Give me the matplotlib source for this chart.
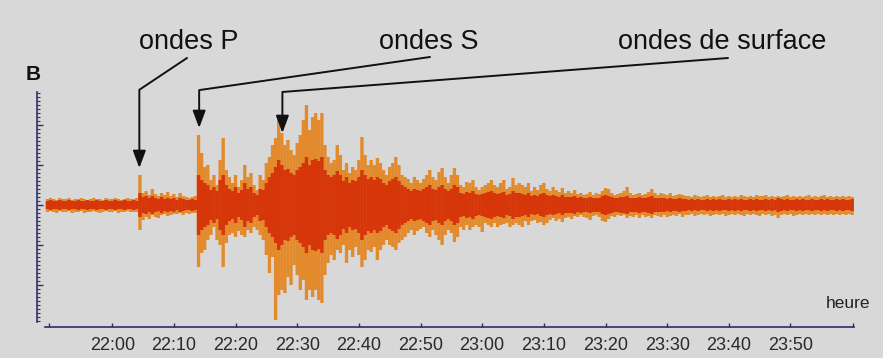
import numpy as np
import matplotlib
matplotlib.use("Agg")
import matplotlib.pyplot as plt
from matplotlib.ticker import FixedLocator, MultipleLocator

plt.rcParams['font.family'] = ['Liberation Sans', 'DejaVu Sans']

# ---------------- data ----------------
# sample times: minutes after 22:00
t_start, t_step, t_end = -10.5, 0.5, 120.0
times = np.arange(t_start, t_end + t_step / 2, t_step)

# peak amplitude above / below baseline (arbitrary units)
up_A = [6, 7, 6, 5, 7, 6, 6, 7, 5, 6, 6, 7, 6, 5, 6, 7, 6, 6, 5, 7,
        6, 6, 7, 6, 5, 6, 7, 6, 6, 7]
lo_A = [7, 6, 7, 8, 6, 7, 7, 6, 8, 7, 7, 6, 8, 7, 7, 6, 7, 8, 7, 6,
        7, 7, 6, 8, 7, 7, 6, 7, 7, 7]
up_B = [30, 12, 14, 10, 16, 11, 9, 12, 10, 13, 9, 11, 8, 12, 9, 8, 7, 8, 9]
lo_B = [25, 15, 12, 14, 10, 12, 13, 10, 9, 11, 10, 9, 9, 8, 10, 8, 9, 8, 8]
up_C = [70, 52, 38, 40, 25, 30, 20, 45, 67, 35,
        28, 22, 30, 18, 25, 40, 28, 32, 20, 15,
        30, 25, 42, 48, 60, 67, 90, 72, 60, 65,
        55, 50, 62, 70, 85, 100, 75, 88, 92, 85,
        92, 60, 48, 42, 45, 60, 50, 35, 42, 32,
        38, 35, 45, 68, 50, 40, 45, 40, 47, 42,
        35, 30, 38, 42, 48, 40, 30, 28, 26, 22,
        28, 25, 22, 26, 30, 35, 28, 25, 33, 37,
        28, 22, 30, 37, 30, 20, 18, 23, 22, 25,
        18, 15, 18, 20, 22, 25, 20, 18, 22, 25,
        16, 18, 27, 20, 22, 20, 18, 22, 14, 18,
        15, 20, 22, 16, 14, 18, 15, 13, 17, 12,
        14, 12, 15, 11, 12, 10, 11, 13, 10, 12,
        11, 14, 17, 16, 12, 10, 11, 12, 14, 18,
        12, 10, 11, 12, 10, 11, 13, 16, 12, 10,
        12, 11, 10, 12, 9, 10, 11, 10, 9]
lo_C = [62, 48, 45, 35, 30, 22, 35, 40, 62, 38,
        30, 28, 32, 26, 30, 32, 25, 28, 22, 25,
        30, 35, 50, 68, 52, 115, 90, 85, 88, 72,
        80, 60, 70, 85, 75, 95, 85, 92, 85, 95,
        98, 70, 58, 50, 55, 45, 48, 40, 58, 45,
        52, 42, 50, 62, 55, 45, 47, 42, 55, 45,
        40, 35, 40, 42, 45, 38, 35, 32, 28, 25,
        30, 26, 24, 22, 28, 32, 25, 30, 35, 40,
        30, 25, 28, 37, 32, 22, 25, 20, 25, 22,
        20, 22, 27, 18, 20, 22, 18, 22, 20, 19,
        18, 22, 20, 18, 20, 22, 16, 20, 16, 15,
        18, 17, 20, 18, 15, 13, 16, 14, 17, 13,
        12, 14, 11, 12, 10, 12, 13, 15, 11, 10,
        12, 16, 17, 14, 11, 12, 10, 11, 10, 13,
        11, 12, 10, 13, 10, 12, 11, 13, 10, 11,
        12, 10, 12, 11, 10, 11, 9, 12, 10]
up_D = [9, 8, 10, 9, 8, 9, 10, 8, 9, 8, 9, 10, 8, 9, 8, 9, 8, 10, 9, 8,
        9, 8, 10, 9, 9, 10, 8, 9, 8, 9, 8, 9, 10, 8, 9, 8, 9, 8, 9, 10,
        8, 9, 8, 9, 10, 8, 9, 8, 9, 8, 9, 8, 9, 8]
lo_D = [10, 9, 11, 10, 9, 10, 9, 11, 10, 9, 10, 9, 11, 10, 9, 10, 9, 10, 11, 9,
        10, 9, 10, 11, 9, 10, 9, 11, 10, 13, 10, 9, 10, 9, 11, 10, 9, 10, 9, 10,
        9, 10, 9, 10, 9, 10, 9, 10, 9, 10, 9, 10, 9, 10]

# half-height of the dense red core at each sample
core_A = [4, 5, 4, 4, 5, 4, 4, 5, 4, 4, 5, 4, 4, 5, 4, 4, 5, 4, 4, 5,
          4, 4, 5, 4, 4, 5, 4, 4, 5, 4]
core_B = [12, 8, 9, 7, 9, 7, 6, 8, 6, 7, 6, 7, 5, 7, 6, 5, 5, 6, 5]
core_C = [30, 25, 22, 20, 15, 18, 14, 25, 30, 20,
          16, 14, 18, 12, 15, 22, 16, 18, 12, 10,
          16, 15, 22, 28, 32, 38, 45, 40, 35, 36,
          32, 30, 35, 38, 42, 48, 40, 45, 46, 44,
          48, 35, 30, 28, 30, 34, 30, 24, 28, 22,
          25, 24, 28, 35, 30, 26, 28, 25, 28, 26,
          22, 20, 24, 26, 28, 24, 20, 18, 16, 14,
          16, 15, 14, 16, 18, 20, 16, 15, 18, 20,
          16, 14, 16, 20, 18, 12, 11, 13, 12, 14,
          11, 10, 11, 12, 13, 14, 12, 11, 12, 13,
          10, 11, 14, 12, 12, 11, 10, 12, 9, 10,
          9, 11, 12, 10, 9, 10, 9, 8, 10, 8,
          8, 8, 9, 7, 8, 7, 7, 8, 7, 7,
          7, 9, 10, 9, 8, 7, 7, 8, 8, 9,
          7, 7, 7, 8, 7, 7, 8, 9, 7, 7,
          7, 7, 6, 7, 6, 6, 7, 6, 6]
core_D = [5, 6, 5, 6, 5, 5, 6, 5, 6, 5, 6, 5, 5, 6, 5, 6, 5, 6, 5, 5,
          6, 5, 6, 5, 5, 6, 5, 6, 5, 7, 6, 5, 6, 5, 5, 6, 5, 6, 5, 5,
          6, 5, 5, 6, 5, 6, 5, 5, 6, 5, 6, 5, 5, 6]

upper = np.array(up_A + up_B + up_C + up_D, dtype=float)
lower = -np.array(lo_A + lo_B + lo_C + lo_D, dtype=float)
core = np.array(core_A + core_B + core_C + core_D, dtype=float)

tick_min = [0, 10, 20, 30, 40, 50, 60, 70, 80, 90, 100, 110]
tick_labels = ["22:00", "22:10", "22:20", "22:30", "22:40", "22:50",
               "23:00", "23:10", "23:20", "23:30", "23:40", "23:50"]

phase_labels = ["ondes P", "ondes S", "ondes de surface"]
phase_t = [4.4, 14.1, 27.6]
phase_tip = [37, 77, 72]

# ---------------- figure ----------------
W, H = 883, 358
BG = '#d8d8d8'
fig = plt.figure(figsize=(W / 100, H / 100), dpi=100, facecolor=BG)
ax = fig.add_axes([45 / W, 36 / H, 809 / W, 230 / H])
ax.set_facecolor(BG)

ax.vlines(times, lower, upper, color='#e38a2c', linewidth=2.4, zorder=2,
          snap=False)
ax.vlines(times, np.maximum(-core, lower), np.minimum(core, upper),
          color='#d6360a', linewidth=2.5, zorder=3, snap=False)

ax.set_xlim(-10.9, 120.3)
ax.set_ylim(-117, 113)

navy = '#2d2d6e'
for s in ['top', 'right']:
    ax.spines[s].set_visible(False)
ax.spines['left'].set_position(('outward', 5.8))
ax.spines['bottom'].set_position(('outward', 3.6))
for s in ['left', 'bottom']:
    ax.spines[s].set_color(navy)
    ax.spines[s].set_linewidth(1.2)

ax.xaxis.set_major_locator(FixedLocator(tick_min))
ax.set_xticklabels(tick_labels)
ax.xaxis.set_minor_locator(FixedLocator([-10.3, 120.2]))
ax.tick_params(axis='x', which='major', direction='in', length=3, width=1,
               color=navy, labelsize=13, labelcolor='#2a2a2a', pad=7)
ax.tick_params(axis='x', which='minor', direction='in', length=3, width=1,
               color=navy)

ax.yaxis.set_major_locator(MultipleLocator(40))
ax.yaxis.set_minor_locator(MultipleLocator(4))
ax.tick_params(axis='y', which='major', direction='in', length=4, width=1,
               color=navy, labelleft=False)
ax.tick_params(axis='y', which='minor', direction='in', length=2, width=0.8,
               color=navy)

# phase annotations
text_pos = [(189, 42), (429, 42), (722, 42)]
line_start = [(187, 58), (430, 57), (728, 58)]
corner = [(139, 90), (200, 90), (282, 92)]
for lab, t, a, tp, ls, cn in zip(phase_labels, phase_t, phase_tip,
                                  text_pos, line_start, corner):
    fig.text(tp[0] / W, 1 - tp[1] / H, lab, ha='center', va='center',
             fontsize=19.5, color='#111111')
    ang = np.degrees(np.arctan2(-(cn[1] - ls[1]), cn[0] - ls[0]))
    ax.annotate('', xy=(t, a), xycoords='data',
                xytext=(ls[0], H - ls[1]), textcoords='figure pixels',
                arrowprops=dict(arrowstyle='-|>,head_length=0.75,head_width=0.28',
                                connectionstyle=f'angle,angleA={ang:.2f},angleB=90,rad=0',
                                color='#111111', lw=1.4, mutation_scale=14,
                                shrinkA=0, shrinkB=0),
                annotation_clip=False, zorder=5)

fig.text(33 / W, 1 - 74 / H, 'B', ha='center', va='center', fontsize=15,
         fontweight='bold', color='#111111')
fig.text(848 / W, 1 - 304 / H, 'heure', ha='center', va='center',
         fontsize=12.5, color='#222222')

fig.savefig('out.png', dpi=100, facecolor=BG)
